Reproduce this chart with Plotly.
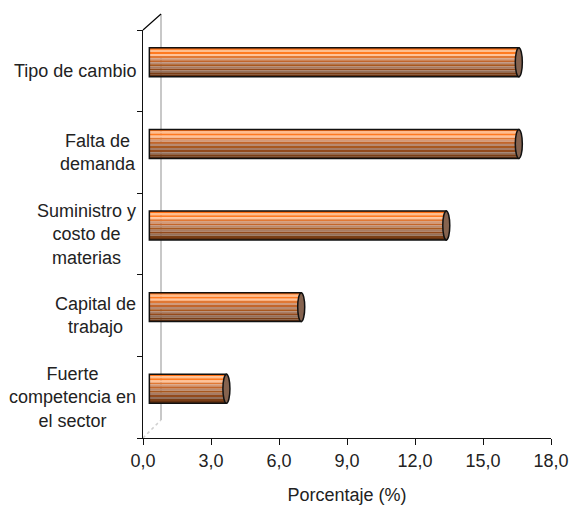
import plotly.graph_objects as go

# ---- data ----
categories = ["Fuerte<br>competencia en<br>el sector", "Capital de<br>trabajo",
              "Suministro y<br>costo de<br>materias", "Falta de<br>demanda", "Tipo de cambio"]
values = [3.4, 6.7, 13.1, 16.3, 16.3]
x_ticks = [0, 3, 6, 9, 12, 15, 18]
x_title = "Porcentaje (%)"

# ---- style ----
FONT = "Liberation Sans, Arial, sans-serif"
DEPTH_X = 0.28      # 3D depth shift of bar plane (x units)
DEPTH_Y = 0.104     # 3D depth shift of bar plane (y units)
BAR_H = 0.355
stripe_colors = ["#FF6F12", "#FFBE8E", "#FF7A20", "#FFC39A", "#E07834", "#D29A7A",
                 "#C2652A", "#B98A70", "#A8581F", "#A87C64", "#934A1C", "#94705C",
                 "#7A3E16", "#633010"]
n = len(stripe_colors)
s = BAR_H / n
pos = list(range(len(categories)))

fig = go.Figure()
for i, col in enumerate(stripe_colors):
    fig.add_trace(go.Bar(
        x=values, y=pos, orientation="h", xaxis="x2", yaxis="y2",
        width=s * 1.02, offset=BAR_H / 2 - (i + 1) * s,
        marker=dict(color=col, line=dict(width=0)),
        hoverinfo="skip", showlegend=False))
# outline
fig.add_trace(go.Bar(
    x=values, y=pos, orientation="h", xaxis="x2", yaxis="y2",
    width=BAR_H, offset=-BAR_H / 2,
    marker=dict(color="rgba(0,0,0,0)", line=dict(color="#111111", width=1.5)),
    hoverinfo="skip", showlegend=False))

shapes = []
cap_rx = 0.155
for v, p in zip(values, pos):
    shapes.append(dict(type="circle", xref="x2", yref="y2",
                       x0=v - cap_rx, x1=v + cap_rx,
                       y0=p - BAR_H / 2, y1=p + BAR_H / 2,
                       fillcolor="#85634F", line=dict(color="#111111", width=1.5),
                       layer="above"))
# 3D frame: top diagonal, back wall edge, floor diagonal (paper-anchored, pixel offsets)
shapes.append(dict(type="line", xref="paper", yref="paper", xsizemode="pixel", ysizemode="pixel",
                   xanchor=0, yanchor=1, x0=0, x1=18, y0=0, y1=16,
                   line=dict(color="#000000", width=1.2)))
shapes.append(dict(type="line", xref="paper", yref="paper", xsizemode="pixel", ysizemode="pixel",
                   xanchor=0, yanchor=0, x0=18, x1=18, y0=18, y1=424,
                   line=dict(color="#C8C8C8", width=2), layer="below"))
shapes.append(dict(type="line", xref="paper", yref="paper", xsizemode="pixel", ysizemode="pixel",
                   xanchor=0, yanchor=0, x0=0, x1=18, y0=0, y1=18,
                   line=dict(color="#D0D0D0", width=1.5, dash="dot"), layer="below"))

annotations = []
for c, p in zip(categories, pos):
    annotations.append(dict(text=c, x=0, y=p, xref="x", yref="y", xanchor="right",
                            yanchor="middle", align="center", xshift=-5, showarrow=False,
                            font=dict(family=FONT, size=18, color="#222222")))

fig.update_layout(
    width=571, height=507,
    margin=dict(l=143, r=20, t=30, b=69, autoexpand=False),
    paper_bgcolor="white", plot_bgcolor="white",
    barmode="overlay", separators=",.",
    font=dict(family=FONT, size=18, color="#222222"),
    xaxis=dict(range=[0, 18], tickvals=x_ticks, tickformat=".1f", automargin=False,
               showline=True, linecolor="#111111", linewidth=1.2,
               ticks="outside", ticklen=6, tickcolor="#111111",
               showgrid=False, zeroline=False,
               title=dict(text=x_title, standoff=18,
                          font=dict(family=FONT, size=18, color="#222222"))),
    xaxis2=dict(range=[-DEPTH_X, 18 - DEPTH_X], overlaying="x", visible=False),
    yaxis=dict(range=[-0.5, 4.5], tickvals=[-0.5, 0.5, 1.5, 2.5, 3.5, 4.5], automargin=False,
               showticklabels=False, showline=True, linecolor="#111111", linewidth=1.2,
               ticks="outside", ticklen=5, tickcolor="#111111",
               showgrid=False, zeroline=False),
    yaxis2=dict(range=[-0.5 - DEPTH_Y, 4.5 - DEPTH_Y], overlaying="y", visible=False),
    shapes=shapes, annotations=annotations,
)
fig.write_html("out.html", config={"displayModeBar": False},
               post_script="document.body.style.margin='0';document.body.style.padding='0';")
